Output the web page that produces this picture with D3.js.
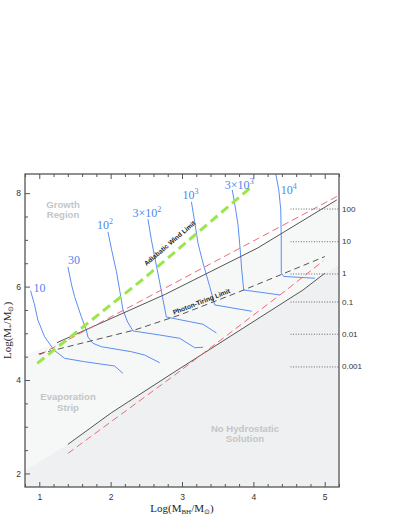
<!DOCTYPE html>
<html><head><meta charset="utf-8">
<script src="https://cdn.jsdelivr.net/npm/d3@7"></script>
<style>body{margin:0;background:#fff}</style>
</head><body>
<svg id="c" width="399" height="516"></svg>
<script>
// ---------- data (axis units) ----------
const xDomain = [0.8, 5.2];
const yDomain = [1.71, 8.41];
const xMajorTicks = [1, 2, 3, 4, 5];
const yMajorTicks = [2, 4, 6, 8];

// upper boundary of the evaporation strip (solid) and its alternative (red dashed)
const upperBoundary = [[1.247, 4.799], [2.767, 5.836], [4.062, 6.828], [5.17, 7.856]];
const upperBoundaryAlt = [[1.004, 4.537], [5.184, 7.94]];
// lower boundary (solid) and alternative (red dashed)
const lowerBoundary = [[1.401, 2.622], [2.010, 3.299], [2.898, 4.177], [4.697, 5.928], [5.001, 6.286]];
const lowerBoundaryAlt = [[1.401, 2.429], [2.898, 4.107], [4.464, 5.928], [4.978, 6.549]];
// limits
const windLimit = [[0.972, 4.357], [2.453, 6.157], [3.973, 8.135]];
const photonTiringLimit = [[0.99, 4.557], [2.337, 5.071], [2.968, 5.392], [3.809, 5.892], [5.001, 6.642]];
// shaded regions
const stripRegion = [[0.8, 4.535], ...upperBoundary, [5.2, 7.884], [5.2, 1.71], [0.8, 1.71]];
const noHydroRegion = [[0.8, 2.05], ...lowerBoundary, [5.2, 6.47], [5.2, 1.71], [0.8, 1.71]];

// evolutionary tracks
const trackLabels = [["10", ""], ["30", ""], ["10", "2"], ["3×10", "2"], ["10", "3"], ["3×10", "3"], ["10", "4"]];
const track10 = [[0.878, 5.913], [0.934, 5.607], [0.980, 5.285], [1.074, 4.927], [1.205, 4.642], [1.355, 4.465], [1.635, 4.392], [2.056, 4.300], [2.172, 4.143]];
const track30 = [[1.401, 6.421], [1.453, 6.035], [1.495, 5.784], [1.589, 5.356], [1.659, 5.071], [1.682, 4.921], [1.752, 4.786], [1.870, 4.713], [2.290, 4.606], [2.477, 4.535], [2.687, 4.370]];
const track1e2 = [[1.962, 7.171], [2.014, 6.785], [2.080, 6.329], [2.126, 5.928], [2.173, 5.499], [2.238, 5.242], [2.313, 5.050], [2.687, 4.964], [2.968, 4.893], [3.178, 4.692], [3.295, 4.700]];
const track3e2 = [[2.523, 7.443], [2.571, 7.0], [2.617, 6.635], [2.663, 6.286], [2.734, 5.714], [2.781, 5.349], [3.108, 5.249], [3.295, 5.193], [3.482, 5.007]];
const track1e3 = [[3.132, 7.814], [3.178, 7.385], [3.224, 6.929], [3.295, 6.500], [3.389, 5.999], [3.459, 5.607], [3.978, 5.472]];
const track3e3 = [[3.704, 8.071], [3.753, 7.642], [3.785, 7.321], [3.816, 6.785], [3.837, 6.357], [3.865, 5.928], [4.370, 5.821]];
const track1e4 = [[4.314, 8.414], [4.356, 8.071], [4.384, 7.642], [4.391, 7.0], [4.391, 6.292], [4.426, 6.217], [4.861, 6.179]];
const tracks = [track10, track30, track1e2, track3e2, track1e3, track3e3, track1e4];

// right-hand ratio scale
const ratioLabels = ["100", "10", "1", "0.1", "0.01", "0.001"];
const ratioValues = [7.66, 6.96, 6.27, 5.67, 4.98, 4.28];
const ratioLineStart = 4.52;

const regionLabels = [["Growth", "Region"], ["Evaporation", "Strip"], ["No Hydrostatic", "Solution"]];
const regionAnchors = [[1.333, 7.686], [1.403, 3.568], [3.883, 2.892]];

// ---------- layout ----------
const M = {left: 25, right: 339, top: 174, bottom: 487};
const svg = d3.select("#c");
const x = d3.scaleLinear().domain(xDomain).range([M.left, M.right]);
const y = d3.scaleLinear().domain(yDomain).range([M.bottom, M.top]);
const line = d3.line().x(d => x(d[0])).y(d => y(d[1]));

svg.append("defs").append("clipPath").attr("id", "clip")
  .append("rect").attr("x", M.left).attr("y", M.top)
  .attr("width", M.right - M.left).attr("height", M.bottom - M.top);
const g = svg.append("g").attr("clip-path", "url(#clip)");

g.append("rect").attr("x", M.left).attr("y", M.top)
  .attr("width", M.right - M.left).attr("height", M.bottom - M.top).attr("fill", "#ffffff");
g.append("path").attr("d", line(stripRegion) + "Z").attr("fill", "#f6f7f7");
g.append("path").attr("d", line(noHydroRegion) + "Z").attr("fill", "#eef0f1");

// ratio dotted guides
ratioValues.forEach((v, i) => {
  svg.append("line").attr("x1", x(ratioLineStart)).attr("x2", M.right)
    .attr("y1", y(v)).attr("y2", y(v))
    .attr("stroke", "#666").attr("stroke-width", 1).attr("stroke-dasharray", "1,1.6");
  svg.append("text").attr("x", M.right + 3).attr("y", y(v)).attr("dominant-baseline", "central")
    .attr("font-family", "Liberation Sans, Arial, sans-serif").attr("font-size", 8).attr("fill", "#333")
    .text(ratioLabels[i]);
});

// tracks
tracks.forEach(t => {
  g.append("path").attr("d", line(t)).attr("fill", "none")
    .attr("stroke", "#5b8ef2").attr("stroke-width", 1);
});

// boundaries
g.append("path").attr("d", line(upperBoundary)).attr("fill", "none").attr("stroke", "#555").attr("stroke-width", 1);
g.append("path").attr("d", line(lowerBoundary)).attr("fill", "none").attr("stroke", "#555").attr("stroke-width", 1);
g.append("path").attr("d", line(upperBoundaryAlt)).attr("fill", "none").attr("stroke", "#f06a78").attr("stroke-width", 1).attr("stroke-dasharray", "7,4");
g.append("path").attr("d", line(lowerBoundaryAlt)).attr("fill", "none").attr("stroke", "#f06a78").attr("stroke-width", 1).attr("stroke-dasharray", "7,4");
g.append("path").attr("d", line(photonTiringLimit)).attr("fill", "none").attr("stroke", "#555").attr("stroke-width", 1).attr("stroke-dasharray", "6,4");
g.append("path").attr("d", line(windLimit)).attr("fill", "none").attr("stroke", "#9be64b").attr("stroke-width", 3).attr("stroke-dasharray", "9,5");

// track labels
const labelOffsets = [[3, -3, "start"], [0, -7, "start"], [-3, -7, "middle"], [-1, -6, "middle"], [-1, -7, "middle"], [7, -5, "middle"], [13, 16, "middle"]];
tracks.forEach((t, i) => {
  const [dx, dy, anchor] = labelOffsets[i];
  const txt = svg.append("text").attr("x", x(t[0][0]) + dx).attr("y", y(t[0][1]) + dy)
    .attr("dominant-baseline", "central").attr("text-anchor", anchor)
    .attr("font-family", "Liberation Serif, Times New Roman, serif").attr("font-size", 12).attr("fill", "#4f86ee");
  txt.append("tspan").text(trackLabels[i][0]);
  if (trackLabels[i][1]) txt.append("tspan").attr("font-size", 8).attr("dy", -4).text(trackLabels[i][1]);
});

// region labels
regionLabels.forEach((lines, i) => {
  const t = svg.append("text").attr("text-anchor", "middle")
    .attr("font-family", "Liberation Sans, Arial, sans-serif").attr("font-size", 9.6)
    .attr("font-weight", "bold").attr("fill", "#c4c6c7");
  lines.forEach((s, k) => t.append("tspan").attr("x", x(regionAnchors[i][0]))
    .attr("y", y(regionAnchors[i][1]) + k * 10.6).text(s));
});

// helper: position on polyline
function interp(pts, xv) {
  for (let i = 0; i < pts.length - 1; i++) {
    if (xv >= pts[i][0] && xv <= pts[i + 1][0]) {
      const f = (xv - pts[i][0]) / (pts[i + 1][0] - pts[i][0]);
      return pts[i][1] + f * (pts[i + 1][1] - pts[i][1]);
    }
  }
  return pts[pts.length - 1][1];
}
function lineLabel(pts, xv, dist, text) {
  const px = x(xv), py = y(interp(pts, xv));
  const px2 = x(xv + 0.05), py2 = y(interp(pts, xv + 0.05));
  const ang = Math.atan2(py2 - py, px2 - px);
  const nx = Math.sin(ang) * dist, ny = -Math.cos(ang) * dist;
  svg.append("text")
    .attr("transform", `translate(${px + nx},${py + ny}) rotate(${ang * 180 / Math.PI})`)
    .attr("text-anchor", "middle").attr("dominant-baseline", "central")
    .attr("font-family", "Liberation Sans, Arial, sans-serif").attr("font-size", 6.6)
    .attr("font-weight", "bold").attr("fill", "#222").text(text);
}
lineLabel(windLimit, 2.92, 10.3, "Adiabatic Wind Limit");
lineLabel(photonTiringLimit, 3.296, 4.8, "Photon-Tiring Limit");

// axes
const font = "Liberation Sans, Arial, sans-serif";
const xMinor = d3.range(0.8, 5.201, 0.2).filter(v => Math.abs(v - Math.round(v)) > 1e-6);
const yMinor = d3.range(2, 8.41, 0.5).filter(v => Math.abs(v - Math.round(v / 2) * 2) > 1e-6);

function styleAxis(sel) {
  sel.select(".domain").remove();
  sel.selectAll("line").attr("stroke", "#555");
  sel.selectAll("text").attr("font-family", font).attr("font-size", 8.5).attr("fill", "#333");
}
svg.append("g").attr("transform", `translate(0,${M.bottom})`)
  .call(d3.axisBottom(x).tickValues(xMajorTicks).tickFormat(d3.format("d")).tickSizeInner(-5).tickSizeOuter(0).tickPadding(7)).call(styleAxis);
svg.append("g").attr("transform", `translate(0,${M.bottom})`)
  .call(d3.axisBottom(x).tickValues(xMinor).tickFormat("").tickSizeInner(-3).tickSizeOuter(0)).call(styleAxis);
svg.append("g").attr("transform", `translate(0,${M.top})`)
  .call(d3.axisTop(x).tickValues(xMajorTicks).tickFormat("").tickSizeInner(-5).tickSizeOuter(0)).call(styleAxis);
svg.append("g").attr("transform", `translate(0,${M.top})`)
  .call(d3.axisTop(x).tickValues(xMinor).tickFormat("").tickSizeInner(-3).tickSizeOuter(0)).call(styleAxis);
svg.append("g").attr("transform", `translate(${M.left},0)`)
  .call(d3.axisLeft(y).tickValues(yMajorTicks).tickFormat(d3.format("d")).tickSizeInner(-5).tickSizeOuter(0).tickPadding(4)).call(styleAxis);
svg.append("g").attr("transform", `translate(${M.left},0)`)
  .call(d3.axisLeft(y).tickValues(yMinor).tickFormat("").tickSizeInner(-3).tickSizeOuter(0)).call(styleAxis);

// frame
svg.append("rect").attr("x", M.left).attr("y", M.top)
  .attr("width", M.right - M.left).attr("height", M.bottom - M.top)
  .attr("fill", "none").attr("stroke", "#555").attr("stroke-width", 1.3);

// axis titles
const serif = "Liberation Serif, Times New Roman, serif";
const xt = svg.append("text").attr("x", (M.left + M.right) / 2).attr("y", 512).attr("text-anchor", "middle")
  .attr("font-family", serif).attr("font-size", 11).attr("fill", "#222");
xt.append("tspan").text("Log(M");
xt.append("tspan").attr("font-size", 7).attr("dy", 2).text("BH");
xt.append("tspan").attr("dy", -2).text("/M");
xt.append("tspan").attr("font-size", 7).attr("dy", 2).text("⊙");
xt.append("tspan").attr("dy", -2).text(")");

const yt = svg.append("text").attr("transform", `translate(10.5,${(M.top + M.bottom) / 2}) rotate(-90)`)
  .attr("text-anchor", "middle").attr("font-family", serif).attr("font-size", 11).attr("fill", "#222");
yt.append("tspan").text("Log(M");
yt.append("tspan").attr("font-size", 7).attr("dy", 2).text("*");
yt.append("tspan").attr("dy", -2).text("/M");
yt.append("tspan").attr("font-size", 7).attr("dy", 2).text("⊙");
yt.append("tspan").attr("dy", -2).text(")");
</script>
</body></html>
